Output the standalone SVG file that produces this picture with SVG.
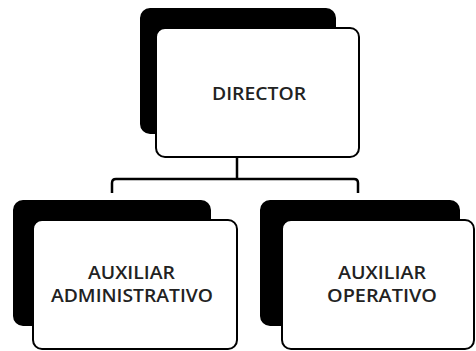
<svg xmlns="http://www.w3.org/2000/svg" width="476" height="351" viewBox="0 0 476 351">
<style>
.shadow{fill:#000;stroke:#000;stroke-width:2}
.box{fill:#fff;stroke:#000;stroke-width:2}
.lbl{font-family:"Open Sans","DejaVu Sans",sans-serif;font-size:18px;font-weight:600;fill:#222}
.conn{fill:none;stroke:#000;stroke-width:2.5}
</style>
<rect width="476" height="351" fill="#fff"/>
<g id="connectors">
<path class="conn" d="M237 157 V179"/>
<path class="conn" d="M112 193 V183 Q112 179 116 179 H354 Q358 179 358 183 V193"/>
</g>
<g id="director">
<rect class="shadow" x="141" y="9" width="194" height="124" rx="9"/>
<rect class="box" x="156" y="28" width="203" height="129" rx="9"/>
<text class="lbl" x="212" y="99.5" textLength="94" lengthAdjust="spacingAndGlyphs">DIRECTOR</text>
</g>
<g id="aux-admin">
<rect class="shadow" x="14" y="201" width="196" height="124" rx="9"/>
<rect class="box" x="33" y="220" width="204" height="129" rx="9"/>
<text class="lbl" x="88" y="279" textLength="87" lengthAdjust="spacingAndGlyphs">AUXILIAR</text>
<text class="lbl" x="51" y="302" textLength="162" lengthAdjust="spacingAndGlyphs">ADMINISTRATIVO</text>
</g>
<g id="aux-oper">
<rect class="shadow" x="261" y="201" width="198" height="124" rx="9"/>
<rect class="box" x="282" y="220" width="192" height="129" rx="9"/>
<text class="lbl" x="338" y="279" textLength="88" lengthAdjust="spacingAndGlyphs">AUXILIAR</text>
<text class="lbl" x="327" y="302" textLength="110" lengthAdjust="spacingAndGlyphs">OPERATIVO</text>
</g>
</svg>
